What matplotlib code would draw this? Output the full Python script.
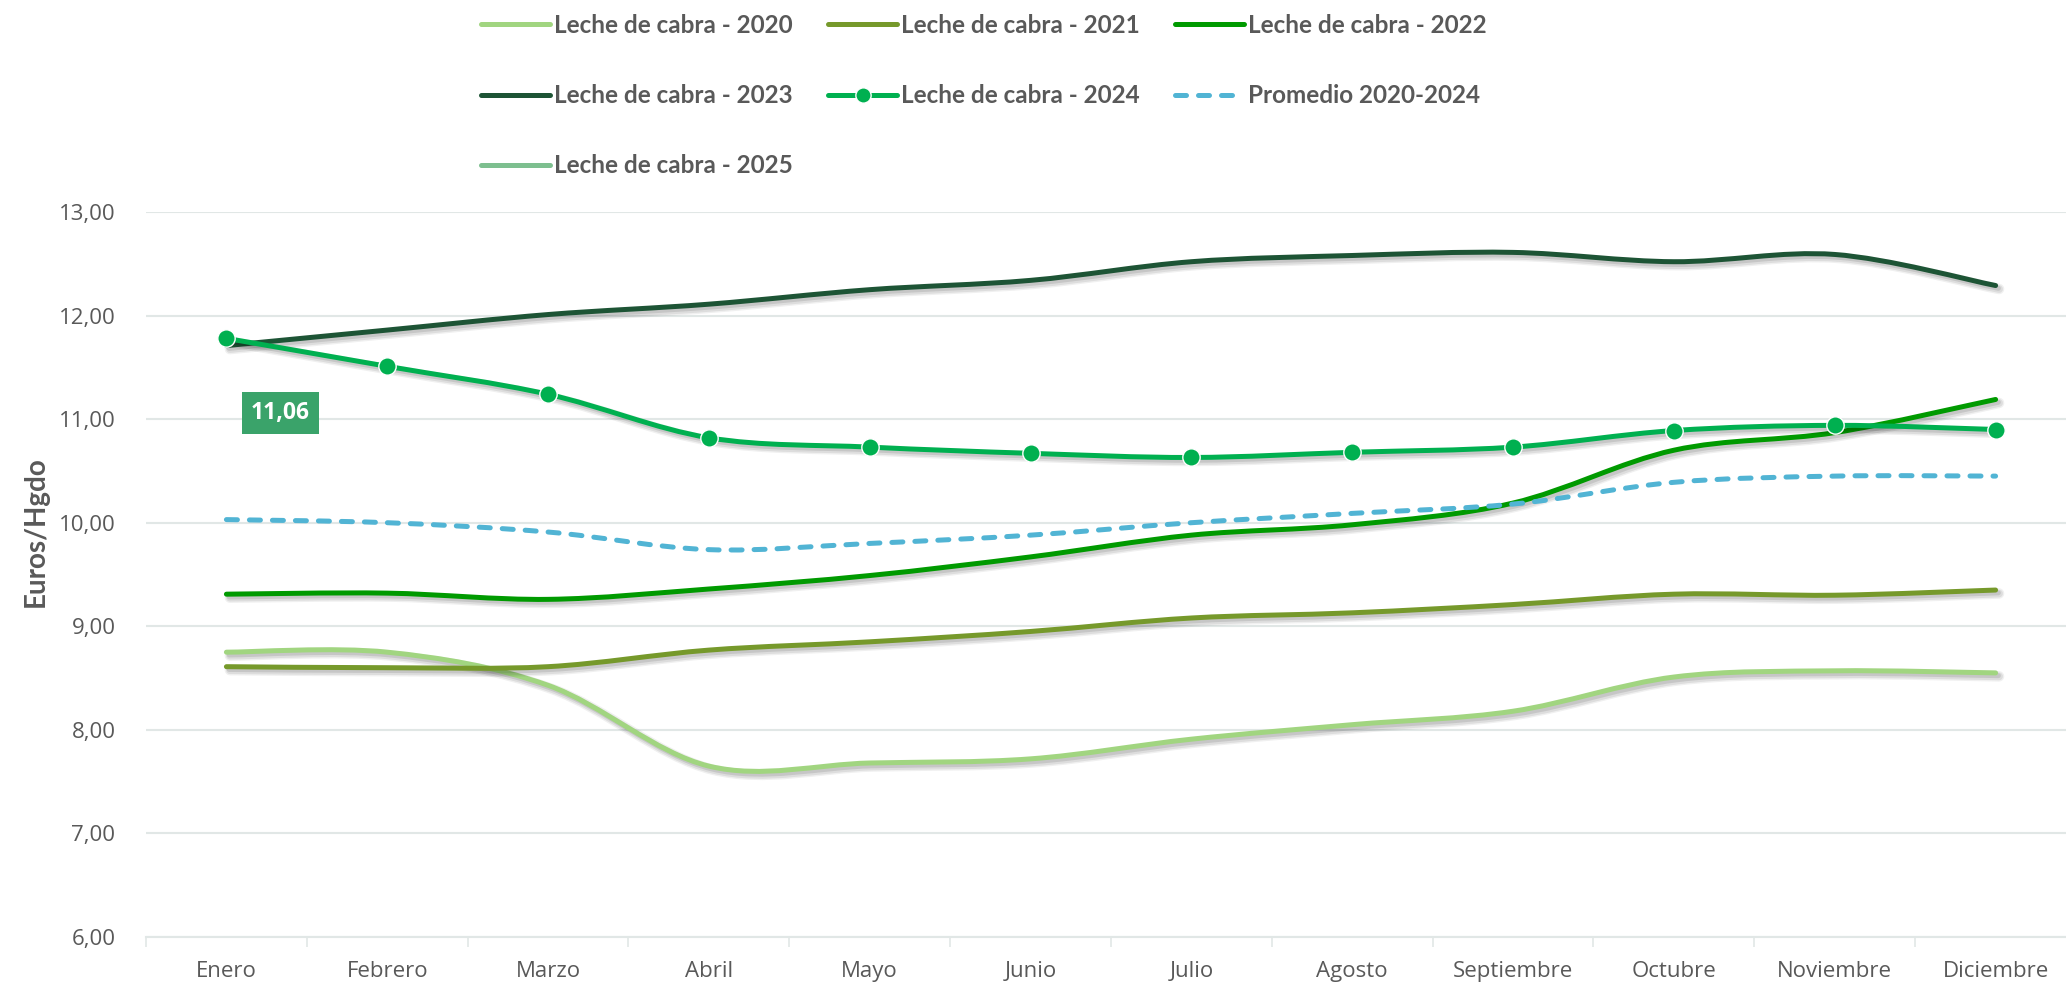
import matplotlib
matplotlib.use("Agg")
import matplotlib.pyplot as plt
import matplotlib.patheffects as pe
from matplotlib.path import Path
from matplotlib.patches import PathPatch
from matplotlib.lines import Line2D
from matplotlib.ticker import FuncFormatter, FixedLocator
import numpy as np

# Data (Euros/Hgdo)
meses = ["Enero", "Febrero", "Marzo", "Abril", "Mayo", "Junio", "Julio",
         "Agosto", "Septiembre", "Octubre", "Noviembre", "Diciembre"]
leche_2020 = [8.75, 8.75, 8.43, 7.65, 7.68, 7.72, 7.91, 8.05, 8.18, 8.51, 8.57, 8.55]
leche_2021 = [8.61, 8.60, 8.61, 8.77, 8.85, 8.95, 9.08, 9.13, 9.21, 9.31, 9.30, 9.35]
leche_2022 = [9.31, 9.32, 9.26, 9.36, 9.49, 9.67, 9.88, 9.98, 10.19, 10.70, 10.87, 11.19]
leche_2023 = [11.71, 11.86, 12.01, 12.11, 12.25, 12.34, 12.52, 12.58, 12.61, 12.52, 12.59, 12.29]
leche_2024 = [11.78, 11.51, 11.24, 10.82, 10.73, 10.67, 10.63, 10.68, 10.73, 10.89, 10.94, 10.90]
promedio = [10.03, 10.00, 9.91, 9.74, 9.80, 9.88, 10.00, 10.09, 10.18, 10.39, 10.45, 10.45]
leche_2025 = [11.06]

C2020 = "#A1D580"
C2021 = "#76992B"
C2022 = "#009A00"
C2023 = "#1D5435"
C2024 = "#00B050"
CPROM = "#51B4D4"
C2025 = "#7DBF8F"
GRID = "#E1E7E6"
TXT = "#595959"

LW = 3.6
BOLD_FONT = ["Lato", "DejaVu Sans"]


def smooth_path(y):
    """Excel-like smoothed curve (Catmull-Rom bezier) through the points."""
    x = np.arange(len(y), dtype=float)
    y = np.asarray(y, dtype=float)
    n = len(y)
    verts = [(x[0], y[0])]
    codes = [Path.MOVETO]
    for i in range(n - 1):
        i0 = max(i - 1, 0)
        i3 = min(i + 2, n - 1)
        c1 = (x[i] + (x[i + 1] - x[i0]) / 6, y[i] + (y[i + 1] - y[i0]) / 6)
        c2 = (x[i + 1] - (x[i3] - x[i]) / 6, y[i + 1] - (y[i3] - y[i]) / 6)
        verts += [c1, c2, (x[i + 1], y[i + 1])]
        codes += [Path.CURVE4] * 3
    return Path(verts, codes)


shadow = [
    pe.SimpleLineShadow(offset=(2.5, -2.5), shadow_color="k", alpha=0.06, linewidth=LW + 4),
    pe.SimpleLineShadow(offset=(2.5, -2.5), shadow_color="k", alpha=0.08, linewidth=LW + 2),
    pe.SimpleLineShadow(offset=(2.0, -2.0), shadow_color="k", alpha=0.10, linewidth=LW),
    pe.Normal(),
]

plt.rcParams["font.family"] = ["Open Sans", "DejaVu Sans"]

fig = plt.figure(figsize=(20.66, 9.84), dpi=100)
ax = fig.add_axes([146 / 2066, 47 / 984, 1930 / 2066, 725 / 984])


def draw_series(y, color, ls="-", zorder=3, with_shadow=True):
    patch = PathPatch(smooth_path(y), fill=False, edgecolor=color, linewidth=LW,
                      linestyle=ls, capstyle="round", joinstyle="round", zorder=zorder)
    if with_shadow:
        patch.set_path_effects(shadow)
    ax.add_patch(patch)


draw_series(leche_2020, C2020)
draw_series(leche_2021, C2021)
draw_series(leche_2022, C2022)
draw_series(leche_2023, C2023)
draw_series(leche_2024, C2024)
ax.plot(range(len(leche_2024)), leche_2024, linestyle="none", marker="o", markersize=12.5,
        markerfacecolor=C2024, markeredgecolor="white", markeredgewidth=1, zorder=4)
draw_series(promedio, CPROM, ls=(0, (2.2, 2.4)), zorder=5, with_shadow=False)
ax.plot(range(len(leche_2025)), leche_2025, color=C2025, linewidth=LW, zorder=5)

# data label for 2025
ax.annotate(f"{leche_2025[0]:.2f}".replace(".", ","), xy=(0, leche_2025[0]),
            xytext=(39, 0), textcoords="offset points", ha="center", va="center",
            color="white", fontsize=16.5, fontweight="bold", zorder=6,
            bbox=dict(boxstyle="square,pad=0.4", fc="#3AA36A", ec="none"))

# axes styling
ax.set_xlim(-0.5, 11.5)
ax.set_ylim(6, 13)
ax.set_yticks(np.arange(6, 13.01, 1))
ax.yaxis.set_major_formatter(FuncFormatter(lambda v, p: f"{v:.2f}".replace(".", ",")))
ax.set_xticks(range(len(meses)))
ax.set_xticklabels(meses)
ax.xaxis.set_minor_locator(FixedLocator(np.arange(-0.5, 12, 1)))
ax.tick_params(axis="y", length=0, pad=22, labelsize=16, labelcolor=TXT)
ax.tick_params(axis="x", which="major", length=0, pad=17, labelsize=16, labelcolor=TXT)
ax.tick_params(axis="x", which="minor", length=7, width=1.2, color=GRID)
ax.grid(axis="y", color=GRID, linewidth=1.5)
ax.set_axisbelow(True)
for s in ["top", "right", "left"]:
    ax.spines[s].set_visible(False)
ax.spines["bottom"].set_color(GRID)
ax.spines["bottom"].set_linewidth(1.5)

fig.text(36 / 2066, 1 - 532 / 984, "Euros/Hgdo", rotation=90, ha="center", va="center",
         fontsize=20, fontweight="bold", color=TXT, family=BOLD_FONT)

# legend: matplotlib fills column by column, so order is given per column
h2020 = Line2D([], [], color=C2020, lw=LW, solid_capstyle="round")
h2021 = Line2D([], [], color=C2021, lw=LW, solid_capstyle="round")
h2022 = Line2D([], [], color=C2022, lw=LW, solid_capstyle="round")
h2023 = Line2D([], [], color=C2023, lw=LW, solid_capstyle="round")
h2024 = Line2D([], [], color=C2024, lw=LW, marker="o", markersize=11,
               markeredgecolor="white", markeredgewidth=1, solid_capstyle="round")
hprom = Line2D([], [], color=CPROM, lw=LW, linestyle=(0, (2.2, 2.4)), dash_capstyle="round")
h2025 = Line2D([], [], color=C2025, lw=LW, solid_capstyle="round")
handles = [h2020, h2023, h2025, h2021, h2024, h2022, hprom]
labels = ["Leche de cabra - 2020", "Leche de cabra - 2023", "Leche de cabra - 2025",
          "Leche de cabra - 2021", "Leche de cabra - 2024",
          "Leche de cabra - 2022", "Promedio 2020-2024"]
fig.legend(handles, labels, ncol=3, loc="upper left", bbox_to_anchor=(481 / 2066, 1 - 14 / 984),
           frameon=False, borderpad=0, borderaxespad=0, handlelength=2.85, handletextpad=0.15,
           columnspacing=1.45, labelspacing=1.94,
           prop=dict(family=BOLD_FONT, weight="bold", size=17.5),
           labelcolor=TXT)

fig.savefig("out.png", dpi=100)
